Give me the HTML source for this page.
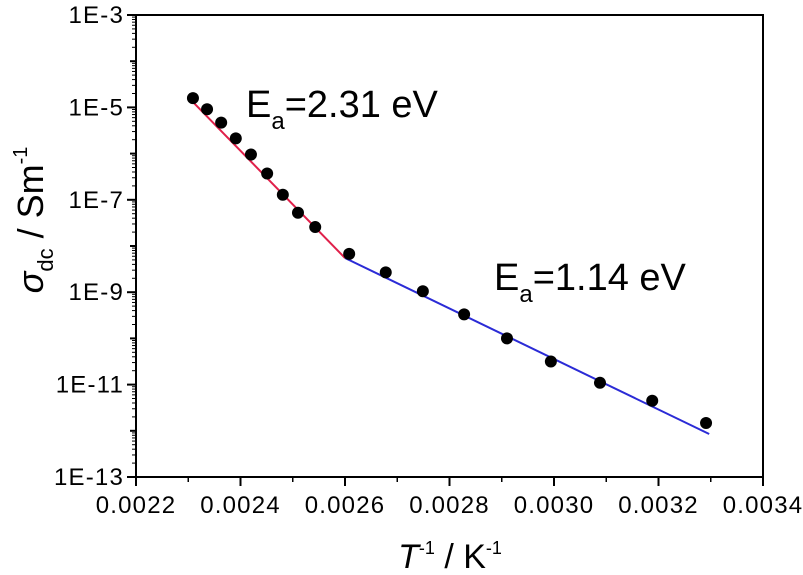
<!DOCTYPE html>
<html><head><meta charset="utf-8"><style>
body{margin:0;background:#fff;}
svg{display:block;font-family:"Liberation Sans",sans-serif;}
</style></head><body>
<svg id="chart" width="803" height="575"></svg>
<script>
const xs=[0.002309,0.002336,0.002363,0.002391,0.00242,0.002451,0.002481,0.00251,0.002543,0.002608,0.002678,0.002749,0.002828,0.00291,0.002994,0.003088,0.003188,0.003291];
const logSigma=[-4.80,-5.04,-5.33,-5.67,-6.02,-6.43,-6.89,-7.28,-7.59,-8.17,-8.57,-8.98,-9.48,-10.0,-10.5,-10.96,-11.35,-11.83];
const redFitX=[0.0023,0.0026];
const redFitY=[-4.78,-8.26];
const blueFitX=[0.0026,0.003297];
const blueFitY=[-8.26,-12.07];
const xTicks=[0.0022,0.0024,0.0026,0.0028,0.0030,0.0032,0.0034];
const xTickLabels=["0.0022","0.0024","0.0026","0.0028","0.0030","0.0032","0.0034"];
const yTicks=[-3,-5,-7,-9,-11,-13];
const yTickLabels=["1E-3","1E-5","1E-7","1E-9","1E-11","1E-13"];

const L=136,R=763,T=15,B=477;
const X=v=>L+(v-0.0022)/(0.0034-0.0022)*(R-L);
const Y=v=>T+(-3-v)/10*(B-T);
const NS="http://www.w3.org/2000/svg";
const svg=document.getElementById('chart');
function mk(tag,at,parent){const e=document.createElementNS(NS,tag);for(const k in at)e.setAttribute(k,at[k]);(parent||svg).appendChild(e);return e;}

const frame=mk('rect',{x:L,y:T,width:R-L,height:B-T,fill:'none',stroke:'#000','stroke-width':2});



for(let i=0;i<xTicks.length;i++){
  const x=X(xTicks[i]);
  const t=mk('line',{x1:x,x2:x,y1:B,y2:B+9,stroke:'#000','stroke-width':2});
  
  
  const lb=mk('text',{x:x,y:B+36,'font-size':24,'letter-spacing':1.2,'text-anchor':'middle'});
  lb.textContent=xTickLabels[i];
  
  
  if(i<xTicks.length-1){
    const xm=X(xTicks[i]+0.0001);
    const m=mk('line',{x1:xm,x2:xm,y1:B,y2:B+5,stroke:'#000','stroke-width':1.5});
    
    
  }
}
for(let d=-13;d<=-3;d++){
  const y=Y(d);
  const major=yTicks.indexOf(d)>=0;
  const t=mk('line',{x1:L-(major?9:6),x2:L,y1:y,y2:y,stroke:'#000','stroke-width':2});
  
  
  if(d<-3){
    for(let k=2;k<=9;k++){
      const ym=Y(d+Math.log10(k));
      const m=mk('line',{x1:L-4,x2:L,y1:ym,y2:ym,stroke:'#000','stroke-width':1});
      
      
    }
  }
}
for(let i=0;i<yTicks.length;i++){
  const lb=mk('text',{x:L-12,y:Y(yTicks[i])+8,'font-size':24,'letter-spacing':1.2,'text-anchor':'end'});
  lb.textContent=yTickLabels[i];
  
  
}

const red=mk('line',{x1:X(redFitX[0]),y1:Y(redFitY[0]),x2:X(redFitX[1]),y2:Y(redFitY[1]),stroke:'#e0204a','stroke-width':2});


const blue=mk('line',{x1:X(blueFitX[0]),y1:Y(blueFitY[0]),x2:X(blueFitX[1]),y2:Y(blueFitY[1]),stroke:'#2b2bd6','stroke-width':2});



for(let i=0;i<xs.length;i++){
  const c=mk('circle',{cx:X(xs[i]),cy:Y(logSigma[i]),r:6,fill:'#000'});
  
  
}
</script>
<svg width="803" height="575" style="position:absolute;left:0;top:0">
<g font-family="Liberation Sans, sans-serif">
<text x="246" y="117" font-size="38">E<tspan font-size="24" dy="12">a</tspan><tspan dy="-12">=2.31 eV</tspan></text>
<text x="494" y="290" font-size="38">E<tspan font-size="24" dy="12">a</tspan><tspan dy="-12">=1.14 eV</tspan></text>
<text x="450" y="568" font-size="34" text-anchor="middle"><tspan font-style="italic">T</tspan><tspan font-size="18" dy="-14">-1</tspan><tspan dy="14"> / K</tspan><tspan font-size="18" dy="-14">-1</tspan></text>
<text transform="translate(43,220) rotate(-90)" font-size="36" text-anchor="middle"><tspan font-style="italic">σ</tspan><tspan font-size="22" dy="10">dc</tspan><tspan dy="-10"> / Sm</tspan><tspan font-size="20" dy="-16">-1</tspan></text>
</g>
</svg>
</body></html>
